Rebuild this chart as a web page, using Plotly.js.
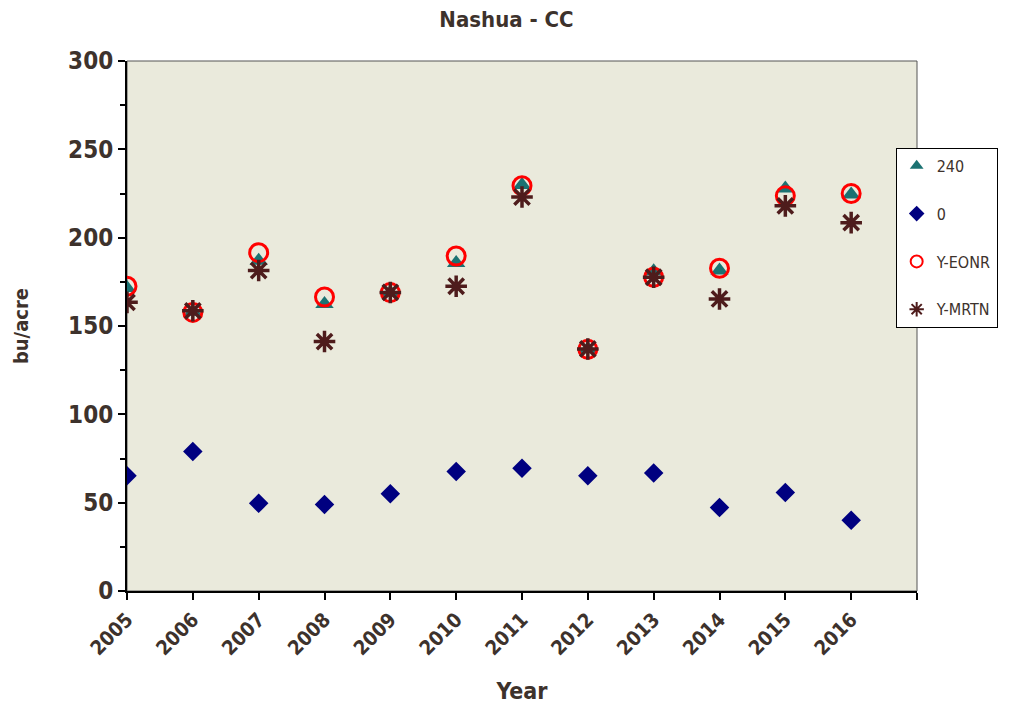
<!DOCTYPE html>
<html>
<head>
<meta charset="utf-8">
<script src="https://cdn.plot.ly/plotly-3.0.1.min.js"></script>
<style>html,body{margin:0;padding:0;background:#fff;}#chart{width:1013px;height:706px;}</style>
</head>
<body>
<div id="chart"></div>
<script>
const years = [2005, 2006, 2007, 2008, 2009, 2010, 2011, 2012, 2013, 2014, 2015, 2016];
const n240 = [171.5, 158, 187, 162.5, 169, 185.6, 229.8, 137, 181, 181.4, 227.9, 224.5];
const n0 = [65.3, 79, 49.6, 49, 55, 67.7, 69.5, 65.3, 66.8, 47.2, 55.7, 40.1];
const yEONR = [172.5, 157.7, 191.5, 166.4, 168.9, 189.6, 229.4, 136.8, 177.6, 182.7, 223.7, 225];
const yMRTN = [163.4, 158.6, 181.4, 141.2, 169, 172.5, 223, 137, 177.6, 165.3, 218, 208.5];
const tickYears = [2005, 2006, 2007, 2008, 2009, 2010, 2011, 2012, 2013, 2014, 2015, 2016, 2017];
const tickText = ['2005', '2006', '2007', '2008', '2009', '2010', '2011', '2012', '2013', '2014', '2015', '2016', ''];

const FONT = '"DejaVu Sans Condensed", "Liberation Sans Narrow", Arial, sans-serif';
const TXT = '#3d322c';

const traces = [
  {x: years, y: n240, name: '240', type: 'scatter', mode: 'markers', legendgroup: 'a',
   marker: {symbol: 'triangle-up', size: 16, color: '#1b7272'}},
  {x: years, y: n0, name: '0', type: 'scatter', mode: 'markers', legendgroup: 'b',
   marker: {symbol: 'diamond', size: 15, color: '#000080'}},
  {x: years, y: yEONR, name: 'Y-EONR', type: 'scatter', mode: 'markers', legendgroup: 'c',
   marker: {symbol: 'circle-open', size: 18, color: '#ff0000', line: {width: 3, color: '#ff0000'}}},
  {x: years, y: yMRTN, name: 'Y-MRTN', type: 'scatter', mode: 'markers', legendgroup: 'd',
   marker: {symbol: 'asterisk-open', size: 18, color: '#4e1c1c', line: {width: 3.5, color: '#4e1c1c'}}}
];

const layout = {
  width: 1013, height: 706,
  margin: {l: 127, r: 96, t: 61, b: 115},
  paper_bgcolor: '#ffffff',
  plot_bgcolor: '#eaeadc',
  font: {family: FONT, color: TXT},
  title: {text: '<b>Nashua - CC</b>', x: 0.5, xanchor: 'center', y: 0.972, yanchor: 'middle',
          font: {family: FONT, size: 22, color: TXT}},
  xaxis: {
    range: [2005, 2017], tickmode: 'array', tickvals: tickYears, ticktext: tickText,
    tickangle: -45, ticks: 'outside', ticklen: 7, tickwidth: 2, tickcolor: '#000',
    showgrid: false, zeroline: false, showline: true, linecolor: '#000', linewidth: 2,
    tickfont: {family: FONT, size: 20, color: TXT, weight: 'bold'},
    title: {text: '<b>Year</b>', font: {family: FONT, size: 23, color: TXT}, standoff: 24}
  },
  yaxis: {
    range: [0, 300], dtick: 50, ticks: 'outside', ticklen: 7, tickwidth: 2, tickcolor: '#000',
    minor: {dtick: 25, ticks: 'outside', ticklen: 5, tickwidth: 2, tickcolor: '#000'},
    showgrid: false, zeroline: false, showline: true, linecolor: '#000', linewidth: 2,
    tickfont: {family: FONT, size: 24, color: TXT, weight: 'bold'},
    title: {text: '<b>bu/acre</b>', font: {family: FONT, size: 20, color: TXT}, standoff: 34}
  },
  shapes: [
    {type: 'rect', xref: 'paper', yref: 'paper', x0: 0, x1: 1, y0: 0, y1: 1,
     line: {color: '#555', width: 1}, layer: 'below'}
  ],
  showlegend: true,
  legend: {
    x: 0.973, xanchor: 'left', y: 0.836, yanchor: 'top',
    bgcolor: '#ffffff', bordercolor: '#000', borderwidth: 1,
    font: {family: FONT, size: 16, color: TXT},
    tracegroupgap: 24, itemsizing: 'constant', itemwidth: 30
  }
};

Plotly.newPlot('chart', traces, layout, {displayModeBar: false, staticPlot: true});
</script>
</body>
</html>
